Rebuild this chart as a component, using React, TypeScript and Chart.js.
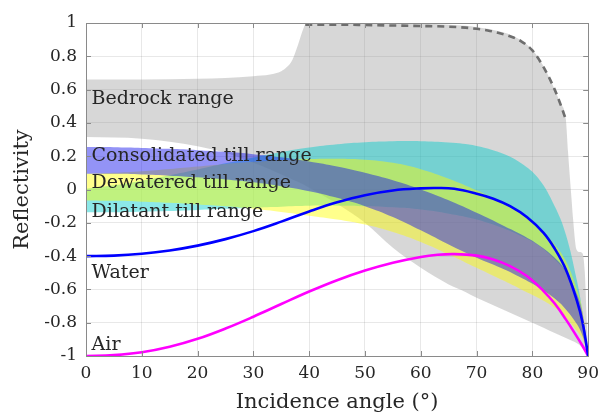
import React, { useEffect, useRef } from "react";
import { Chart, registerables } from "chart.js";

Chart.register(...registerables);

const xTickValues = [0, 10, 20, 30, 40, 50, 60, 70, 80, 90];
const xTickLabels = ["0", "10", "20", "30", "40", "50", "60", "70", "80", "90"];
const yTickValues = [-1, -0.8, -0.6, -0.4, -0.2, 0, 0.2, 0.4, 0.6, 0.8, 1];
const yTickLabels = ["-1", "-0.8", "-0.6", "-0.4", "-0.2", "0", "0.2", "0.4", "0.6", "0.8", "1"];

const bedrockAngles = [0, 10, 20, 25, 30, 33, 35, 36, 37, 38, 39, 39.5, 45, 50, 55, 60, 65, 68, 70, 72, 74, 76, 78, 80, 82, 84, 85, 86, 86.4, 87, 87.3, 87.9, 88.5, 89, 89.4, 89.7, 90];
const bedrockUpper = [0.66, 0.66, 0.665, 0.67, 0.68, 0.69, 0.71, 0.735, 0.78, 0.87, 0.97, 1.0, 1.0, 1.0, 1.0, 0.995, 0.99, 0.983, 0.975, 0.965, 0.95, 0.93, 0.895, 0.84, 0.74, 0.6, 0.52, 0.42, 0.22, -0.05, -0.18, -0.36, -0.375, -0.385, -0.5, -0.75, -1.0];
const bedrockLower = [0.315, 0.305, 0.26, 0.22, 0.16, 0.12, 0.09, 0.075, 0.06, 0.045, 0.03, 0.02, -0.085, -0.2, -0.35, -0.47, -0.57, -0.615, -0.65, -0.68, -0.71, -0.74, -0.77, -0.8, -0.83, -0.862, -0.877, -0.892, -0.898, -0.907, -0.912, -0.922, -0.935, -0.953, -0.97, -0.985, -1.0];

const limitAngles = [39.3, 45, 50, 55, 60, 65, 68, 70, 72, 74, 76, 78, 80, 82, 84, 85, 86];
const limitValues = [0.99, 0.99, 0.988, 0.985, 0.982, 0.978, 0.972, 0.965, 0.955, 0.94, 0.92, 0.89, 0.835, 0.735, 0.6, 0.515, 0.42];

const tillAngles = [0, 5, 10, 15, 20, 25, 30, 35, 40, 45, 50, 55, 60, 65, 70, 75, 78, 81, 84, 86, 88, 89, 90];
const consolidatedUpper = [0.255, 0.254, 0.25, 0.244, 0.236, 0.226, 0.212, 0.193, 0.168, 0.138, 0.1, 0.055, 0.0, -0.065, -0.14, -0.22, -0.27, -0.33, -0.41, -0.49, -0.63, -0.745, -1.0];
const consolidatedLower = [0.095, 0.094, 0.09, 0.083, 0.073, 0.06, 0.043, 0.02, -0.01, -0.05, -0.1, -0.165, -0.245, -0.33, -0.41, -0.48, -0.53, -0.585, -0.655, -0.72, -0.81, -0.88, -1.0];
const dewateredUpper = [0.095, 0.1, 0.11, 0.123, 0.138, 0.153, 0.166, 0.176, 0.183, 0.185, 0.179, 0.16, 0.122, 0.065, -0.005, -0.085, -0.14, -0.22, -0.33, -0.43, -0.6, -0.73, -1.0];
const dewateredLower = [-0.066, -0.068, -0.073, -0.08, -0.09, -0.101, -0.116, -0.135, -0.157, -0.18, -0.21, -0.255, -0.315, -0.39, -0.47, -0.55, -0.6, -0.65, -0.71, -0.77, -0.85, -0.9, -1.0];
const dilatantUpper = [0.004, 0.025, 0.052, 0.085, 0.12, 0.157, 0.192, 0.225, 0.252, 0.272, 0.284, 0.29, 0.29, 0.282, 0.262, 0.212, 0.158, 0.07, -0.1, -0.27, -0.55, -0.74, -1.0];
const dilatantLower = [-0.137, -0.136, -0.133, -0.129, -0.123, -0.116, -0.109, -0.103, -0.098, -0.097, -0.1, -0.107, -0.12, -0.145, -0.18, -0.235, -0.28, -0.335, -0.42, -0.5, -0.64, -0.75, -1.0];

const curveAngles = [0, 5, 10, 15, 20, 25, 30, 35, 40, 45, 50, 55, 60, 63, 66, 70, 73, 76, 79, 82, 84, 86, 88, 89, 90];
const waterValues = [-0.4, -0.397, -0.386, -0.366, -0.337, -0.298, -0.25, -0.193, -0.132, -0.077, -0.034, -0.006, 0.007, 0.009, 0.004, -0.025, -0.055, -0.1, -0.165, -0.26, -0.355, -0.48, -0.67, -0.8, -1.0];
const airValues = [-1.0, -0.995, -0.978, -0.945, -0.897, -0.835, -0.764, -0.688, -0.613, -0.545, -0.487, -0.44, -0.405, -0.392, -0.388, -0.397, -0.42, -0.46, -0.52, -0.61, -0.685, -0.78, -0.885, -0.94, -1.0];

const labelTexts = ["Bedrock range", "Consolidated till range", "Dewatered till range", "Dilatant till range", "Water", "Air"];
const labelAngles = [1, 1, 1, 1, 1, 1];
const labelValues = [0.514, 0.173, 0.007, -0.167, -0.533, -0.964];

const FONT = "'DejaVu Serif', serif";
const TEXT = "#262626";

const pts = (xs: number[], ys: number[]) => xs.map((x, i) => ({ x, y: ys[i] }));

const boundary = (data: any, order: number, smooth: any) => ({
  data,
  order,
  borderWidth: 0,
  borderColor: "rgba(0,0,0,0)",
  pointRadius: 0,
  fill: false,
  ...smooth,
});

const band = (data: any, order: number, target: number, color: string, smooth: any) => ({
  data,
  order,
  borderWidth: 0,
  borderColor: "rgba(0,0,0,0)",
  backgroundColor: color,
  pointRadius: 0,
  fill: target,
  ...smooth,
});

const SPLINE = { tension: 0.4 };
const MONO = { cubicInterpolationMode: "monotone" };

const framePlugin = {
  id: "frame",
  afterDatasetsDraw(chart: any) {
    const { ctx, scales } = chart;
    const xs = scales.x;
    const ys = scales.y;
    ctx.save();
    ctx.font = `19px ${FONT}`;
    ctx.fillStyle = TEXT;
    ctx.textAlign = "left";
    ctx.textBaseline = "alphabetic";
    labelTexts.forEach((t, i) => {
      ctx.fillText(t, xs.getPixelForValue(labelAngles[i]), ys.getPixelForValue(labelValues[i]));
    });
    ctx.restore();
  },
  afterDraw(chart: any) {
    const { ctx, chartArea, scales } = chart;
    const { left, right, top, bottom } = chartArea;
    ctx.save();
    ctx.strokeStyle = "#8a8a8a";
    ctx.lineWidth = 1;
    ctx.strokeRect(Math.round(left) + 0.5, Math.round(top) + 0.5, Math.round(right - left), Math.round(bottom - top));
    ctx.beginPath();
    const tl = 5;
    xTickValues.forEach((v) => {
      const px = Math.round(scales.x.getPixelForValue(v)) + 0.5;
      ctx.moveTo(px, bottom);
      ctx.lineTo(px, bottom - tl);
      ctx.moveTo(px, top);
      ctx.lineTo(px, top + tl);
    });
    yTickValues.forEach((v) => {
      const py = Math.round(scales.y.getPixelForValue(v)) + 0.5;
      ctx.moveTo(left, py);
      ctx.lineTo(left + tl, py);
      ctx.moveTo(right, py);
      ctx.lineTo(right - tl, py);
    });
    ctx.stroke();
    ctx.restore();
  },
};

export default function App() {
  const ref = useRef<HTMLCanvasElement | null>(null);
  useEffect(() => {
    if (!ref.current) return;
    const chart = new Chart(ref.current, {
      type: "line",
      data: {
        datasets: [
          {
            data: pts(curveAngles, waterValues),
            order: 1,
            borderColor: "#0000ff",
            borderWidth: 2.6,
            pointRadius: 0,
            fill: false,
            ...SPLINE,
          },
          {
            data: pts(curveAngles, airValues),
            order: 1,
            borderColor: "#ff00ff",
            borderWidth: 2.6,
            pointRadius: 0,
            fill: false,
            ...SPLINE,
          },
          {
            data: pts(limitAngles, limitValues),
            order: 2,
            borderColor: "#6e6e6e",
            borderWidth: 2.6,
            borderDash: [7, 5],
            pointRadius: 0,
            fill: false,
            ...MONO,
          },
          boundary(pts(tillAngles, consolidatedLower), 3, SPLINE),
          band(pts(tillAngles, consolidatedUpper), 3, 3, "rgba(20,20,235,0.46)", SPLINE),
          boundary(pts(tillAngles, dewateredLower), 4, SPLINE),
          band(pts(tillAngles, dewateredUpper), 4, 5, "rgba(255,255,0,0.45)", SPLINE),
          boundary(pts(tillAngles, dilatantLower), 5, SPLINE),
          band(pts(tillAngles, dilatantUpper), 5, 7, "rgba(0,205,205,0.45)", SPLINE),
          boundary(pts(bedrockAngles, bedrockLower), 6, MONO),
          band(pts(bedrockAngles, bedrockUpper), 6, 9, "rgba(140,140,140,0.35)", MONO),
        ] as any,
      },
      options: {
        animation: false,
        responsive: false,
        devicePixelRatio: 1,
        layout: { padding: { top: 23, right: 14, left: 0, bottom: 0 } },
        plugins: {
          legend: { display: false },
          tooltip: { enabled: false },
        },
        scales: {
          x: {
            type: "linear",
            min: 0,
            max: 90,
            afterBuildTicks: (s: any) => {
              s.ticks = xTickValues.map((v) => ({ value: v }));
            },
            afterFit: (s: any) => {
              s.height = 62;
            },
            ticks: {
              autoSkip: false,
              maxRotation: 0,
              padding: 7,
              color: TEXT,
              font: { family: FONT, size: 17 },
              callback: (_v: any, i: number) => xTickLabels[i],
            },
            grid: { color: "rgba(0,0,0,0.09)", drawTicks: false },
            border: { display: false },
            title: {
              display: true,
              text: "Incidence angle (°)",
              color: TEXT,
              font: { family: FONT, size: 21 },
              padding: { top: 0, bottom: 3 },
            },
          },
          y: {
            type: "linear",
            min: -1,
            max: 1,
            afterBuildTicks: (s: any) => {
              s.ticks = yTickValues.map((v) => ({ value: v }));
            },
            afterFit: (s: any) => {
              s.width = 86;
            },
            ticks: {
              autoSkip: false,
              padding: 9,
              color: TEXT,
              font: { family: FONT, size: 17 },
              callback: (_v: any, i: number) => yTickLabels[i],
            },
            grid: { color: "rgba(0,0,0,0.09)", drawTicks: false },
            border: { display: false },
            title: {
              display: true,
              text: "Reflectivity",
              color: TEXT,
              font: { family: FONT, size: 21 },
              padding: { top: 10, bottom: 0 },
            },
          },
        },
      } as any,
      plugins: [framePlugin],
    });
    return () => chart.destroy();
  }, []);
  return (
    <div style={{ position: "fixed", left: 0, top: 0, width: 606, height: 418, background: "#fff" }}>
      <canvas ref={ref} width={606} height={418} />
    </div>
  );
}
